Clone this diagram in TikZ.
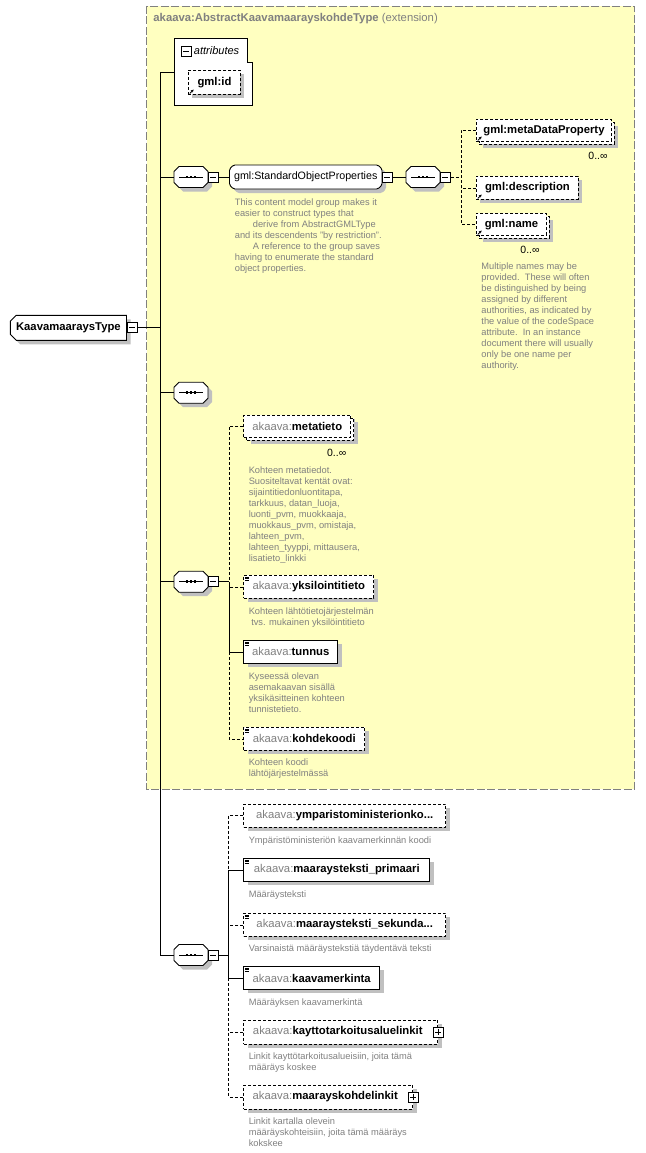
\documentclass[tikz,border=0pt]{standalone}
\usepackage{fontspec}
\setmainfont{Liberation Sans}
\usetikzlibrary{positioning,calc,arrows.meta}
\definecolor{extfill}{HTML}{FFFFC0}
\definecolor{extline}{HTML}{808080}
\definecolor{shadowgray}{HTML}{C0C0C0}
\definecolor{doctext}{HTML}{808080}
\newcommand{\pfx}{\textcolor{doctext}{akaava:}}
\newcommand{\docmark}[1]{\foreach \k in {2,3.6,5.2} \draw[line width=0.6pt] ($(#1.north west)+(1.5,\k)$) -- ++(4.5,0);}
\newcommand{\refmark}[1]{\draw[line width=0.9pt,-{Stealth[length=2.8pt,width=3pt]}] ($(#1.south west)+(1.8,-1.5)$) -- ++(3.8,-3.8);}
% chamfered outline with its shadow: [style]{x0}{y0}{x1}{y1}{chamfer}
\newcommand{\octbox}[6][]{%
  \fill[shadowgray,shift={(4,4)},#1] ({#2+#6},{#3}) -- ({#4-#6},{#3}) -- ({#4},{#3+#6}) -- ({#4},{#5-#6}) -- ({#4-#6},{#5}) -- ({#2+#6},{#5}) -- ({#2},{#5-#6}) -- ({#2},{#3+#6}) -- cycle;
  \draw[fill=white,#1] ({#2+#6},{#3}) -- ({#4-#6},{#3}) -- ({#4},{#3+#6}) -- ({#4},{#5-#6}) -- ({#4-#6},{#5}) -- ({#2+#6},{#5}) -- ({#2},{#5-#6}) -- ({#2},{#3+#6}) -- cycle;}
\newcommand{\seqbox}[3]{%
  \octbox{#2-17}{#3-10.5}{#2+17}{#3+10.5}{5}
  \node[anchorbox,minimum width=34pt,minimum height=21pt] (#1) at (#2,#3) {};
  \draw ([xshift=-12pt]#1.center) -- ([xshift=12pt]#1.center);
  \foreach \dx in {-4,0,4} \fill ([xshift=\dx pt]#1.center) +(-1.3,-1.3) rectangle +(1.3,1.3);}
\begin{document}
\begin{tikzpicture}
[x=1pt,y=-1pt,line width=0.9pt,
 boxshadow/.style={preaction={fill=shadowgray,draw=none,transform canvas={shift={(4pt,-4pt)}}}},
 optline/.style={dash pattern=on 3pt off 2pt},
 manyocc/.style={preaction={fill=shadowgray,draw=none,transform canvas={shift={(7pt,-7pt)}}},
   preaction={draw=black,fill=white,optline,transform canvas={shift={(3pt,-3pt)}}}},
 elem/.style={draw,fill=white,anchor=north west,inner sep=0pt,minimum height=23pt,
   font=\fontsize{11.3}{13}\selectfont,boxshadow},
 anchorbox/.style={inner sep=0pt,outer sep=0pt},
 minusbox/.style={draw,fill=white,minimum size=10pt,inner sep=0pt,line width=0.8pt,
   path picture={\draw ([xshift=2pt]path picture bounding box.west) -- ([xshift=-2pt]path picture bounding box.east);}},
 plusbox/.style={draw,fill=white,minimum size=10pt,inner sep=0pt,line width=0.8pt,
   path picture={\draw ([xshift=2pt]path picture bounding box.west) -- ([xshift=-2pt]path picture bounding box.east);
     \draw ([yshift=-2pt]path picture bounding box.north) -- ([yshift=2pt]path picture bounding box.south);}},
 docnote/.style={anchor=north west,inner sep=0pt,align=left,text=doctext,font=\fontsize{9.3}{11}\selectfont},
 occ/.style={inner sep=0pt,font=\fontsize{10.5}{12}\selectfont}]
\useasboundingbox (0,0) rectangle (645,1153);

% extension frame
\draw[extline,dash pattern=on 8pt off 2.5pt,fill=extfill] (146.5,6) rectangle (634.5,789);
\node[anchor=west,inner sep=0pt,text=doctext,font=\fontsize{11.3}{13}\selectfont] (exttitle) at (153,19) {\textbf{akaava:AbstractKaavamaarayskohdeType} (extension)};

% attributes
\draw[fill=white] (174,38) -- (247,38) -- (247,62) -- (252,62) -- (252,105) -- (174,105) -- cycle;
\coordinate (attrw) at (174,72);
\node[minusbox] (attrm) at (186,51) {};
\node[anchor=west,inner sep=0pt,font=\fontsize{11}{13}\selectfont\itshape] (attrlbl) at (193.5,51) {attributes};
\node[elem,optline,minimum width=52pt,minimum height=24pt] (gmlid) at (188,70) {\textbf{gml:id}};
\refmark{gmlid}

% the type
\coordinate (trunkx) at (160,0);
\fill[shadowgray,shift={(4,4)}] (16.3,315.3) -- (126.5,315.3) -- (126.5,340.3) -- (16.3,340.3) -- (10.3,334.3) -- (10.3,321.3) -- cycle;
\draw[fill=white] (16.3,315.3) -- (126.5,315.3) -- (126.5,340.3) -- (16.3,340.3) -- (10.3,334.3) -- (10.3,321.3) -- cycle;
\node[anchorbox,minimum width=116.2pt,minimum height=25pt,font=\fontsize{11.3}{13}\selectfont] (kt) at (68.4,327.8) {\textbf{KaavamaaraysType}};
\node[minusbox,right=0pt of kt] (ktm) {};

% sequence 1
\seqbox{seqa}{191}{177}
\node[minusbox,right=0pt of seqa] (seqam) {};
\octbox[rounded corners=1.5pt]{229.5}{165}{382}{189}{4}
\node[anchorbox,minimum width=152.5pt,minimum height=24pt,font=\fontsize{10.7}{13}\selectfont] (sop) at (305.75,177) {gml:StandardObjectProperties};
\node[minusbox,right=0pt of sop] (sopm) {};
\seqbox{seqb}{423}{177}
\node[minusbox,right=0pt of seqb] (seqbm) {};
\node[docnote] (sopnote) at (234.4,198) {This content model group makes it\\easier to construct types that\\\hspace*{18pt}derive from AbstractGMLType\\and its descendents "by restriction".\\\hspace*{18pt}A reference to the group saves\\having to enumerate the standard\\object properties.};

\coordinate (bra) at (461,0);
\node[elem,optline,manyocc,minimum width=135pt,minimum height=22pt] (mdp) at (476,119) {\textbf{gml:metaDataProperty}};
\refmark{mdp}
\node[occ] (mdpocc) at (598,156) {0..∞};
\node[elem,optline,minimum width=102pt] (gdesc) at (476,176) {\textbf{gml:description}};
\refmark{gdesc}
\node[elem,optline,manyocc,minimum width=70pt,minimum height=22pt] (gname) at (476,213) {\textbf{gml:name}};
\refmark{gname}
\node[occ] (gnameocc) at (530,250) {0..∞};
\node[docnote] (namenote) at (481,262.2) {Multiple names may be\\provided.\ \ These will often\\be distinguished by being\\assigned by different\\authorities, as indicated by\\the value of the codeSpace\\attribute.\ \ In an instance\\document there will usually\\only be one name per\\authority.};

\draw (seqam.east) -- (sop.west);
\draw (sopm.east) -- (seqb.west);
\draw[optline] (seqbm.east) -- (seqbm.east -| bra);
\draw[optline] (mdp.west) -- (mdp.west -| bra) -- (gname.west -| bra) -- (gname.west);
\draw[optline] (gdesc.west) -- (gdesc.west -| bra);

% sequence 3
\seqbox{seqc}{191}{392.7}

% sequence 4
\seqbox{seqd}{191}{581.7}
\node[minusbox,right=0pt of seqd] (seqdm) {};
\coordinate (brd) at (229.3,0);
\node[elem,optline,manyocc,minimum width=107pt,minimum height=22pt] (meta) at (243.3,415) {\pfx\textbf{metatieto}};
\node[occ] (metaocc) at (336.7,453.3) {0..∞};
\node[docnote] (metanote) at (248.3,466.5) {Kohteen metatiedot.\\Suositeltavat kentät ovat:\\sijaintitiedonluontitapa,\\tarkkuus, datan\_luoja,\\luonti\_pvm, muokkaaja,\\muokkaus\_pvm, omistaja,\\lahteen\_pvm,\\lahteen\_tyyppi, mittausera,\\lisatieto\_linkki};
\node[elem,optline,minimum width=130pt] (yks) at (243.3,575) {\pfx\textbf{yksilointitieto}};
\docmark{yks}
\node[docnote] (yksnote) at (248.3,607.2) {Kohteen lähtötietojärjestelmän\\\hspace*{2.5pt}tvs. mukainen yksilöintitieto};
\node[elem,minimum width=94pt] (tunnus) at (243.3,640) {\pfx\textbf{tunnus}};
\docmark{tunnus}
\node[docnote] (tunnote) at (248.3,672.2) {Kyseessä olevan\\asemakaavan sisällä\\yksikäsitteinen kohteen\\tunnistetieto.};
\node[elem,optline,minimum width=121pt] (kohde) at (243.3,727) {\pfx\textbf{kohdekoodi}};
\docmark{kohde}
\node[docnote] (kohnote) at (248.3,758.2) {Kohteen koodi\\lähtöjärjestelmässä};

\draw (seqdm.east) -- (seqdm.east -| brd);
\draw[optline] (meta.west) -- (meta.west -| brd) -- (brd |- seqdm.east);
\draw (brd |- seqdm.east) -- (brd |- tunnus.west) -- (tunnus.west);
\draw[optline] (yks.west) -- (yks.west -| brd);
\draw[optline] (brd |- tunnus.west) -- (brd |- kohde.west) -- (kohde.west);

% sequence 5
\seqbox{seqe}{191}{955}
\node[minusbox,right=0pt of seqe] (seqem) {};
\coordinate (bre) at (228.8,0);
\node[elem,optline,minimum width=202pt] (ymp) at (243.3,803.5) {\pfx\textbf{ymparistoministerionko...}};
\node[docnote] (ympnote) at (248.3,836.5) {Ympäristöministeriön kaavamerkinnän koodi};
\node[elem,minimum width=186pt] (prim) at (243.3,858) {\pfx\textbf{maaraysteksti\_primaari}};
\docmark{prim}
\node[docnote] (primnote) at (248.3,889.8) {Määräysteksti};
\node[elem,optline,minimum width=202pt] (sek) at (243.3,913) {\pfx\textbf{maaraysteksti\_sekunda...}};
\docmark{sek}
\node[docnote] (seknote) at (248.3,943.8) {Varsinaistä määräystekstiä täydentävä teksti};
\node[elem,minimum width=136pt] (kaava) at (243.3,966) {\pfx\textbf{kaavamerkinta}};
\docmark{kaava}
\node[docnote] (kaavanote) at (248.3,998.2) {Määräyksen kaavamerkintä};
\node[elem,optline,minimum width=194pt,minimum height=24pt] (kayt) at (243.3,1019.5) {\pfx\textbf{kayttotarkoitusaluelinkit}\hspace*{6pt}};
\node[plusbox] (kaytp) at (kayt.east) {};
\node[docnote] (kaytnote) at (248.3,1052.2) {Linkit kayttötarkoitusalueisiin, joita tämä\\määräys koskee};
\node[elem,optline,minimum width=169pt,minimum height=24pt] (maar) at (243.3,1084.5) {\pfx\textbf{maarayskohdelinkit}\hspace*{6pt}};
\node[plusbox] (maarp) at (maar.east) {};
\node[docnote] (maarnote) at (248.3,1117.5) {Linkit kartalla olevein\\määräyskohteisiin, joita tämä määräys\\kokskee};

\draw (seqem.east) -- (seqem.east -| bre);
\draw[optline] (ymp.west) -- (ymp.west -| bre) -- (bre |- prim.west);
\draw (bre |- prim.west) -- (prim.west);
\draw (bre |- prim.west) -- (bre |- kaava.west) -- (kaava.west);
\draw[optline] (sek.west) -- (sek.west -| bre);
\draw[optline] (bre |- kaava.west) -- (bre |- maar.west) -- (maar.west);
\draw[optline] (kayt.west) -- (kayt.west -| bre);

% trunk
\draw (attrw) -- (attrw -| trunkx) -- (trunkx |- seqe.west) -- (seqe.west);
\draw (ktm.east) -- (ktm.east -| trunkx);
\draw (trunkx |- seqa.west) -- (seqa.west);
\draw (trunkx |- seqc.west) -- (seqc.west);
\draw (trunkx |- seqd.west) -- (seqd.west);
\end{tikzpicture}
\end{document}
